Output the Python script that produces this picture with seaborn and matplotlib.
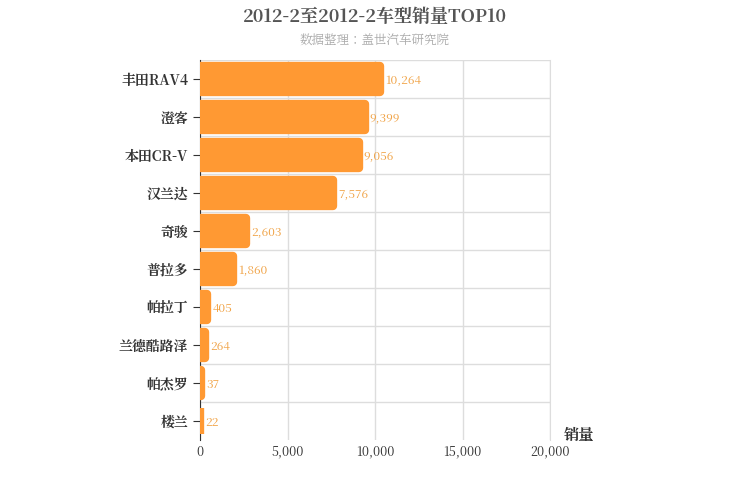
import matplotlib
matplotlib.use('Agg')
import matplotlib.pyplot as plt
from matplotlib import font_manager
import seaborn as sns
import pandas as pd
import numpy as np

models = ['丰田RAV4', '澄客', '本田CR-V', '汉兰达', '奇骏', '普拉多', '帕拉丁', '兰德酷路泽', '帕杰罗', '楼兰']
sales = [10264, 9399, 9056, 7576, 2603, 1860, 405, 264, 37, 22]

# find a CJK font file and register it
cjk = None
for f in font_manager.findSystemFonts():
    if 'CJK' in f or 'cjk' in f.lower():
        try:
            font_manager.fontManager.addfont(f)
        except Exception:
            continue
        name = font_manager.FontProperties(fname=f).get_name()
        if cjk is None or 'SC' in name:
            cjk = name
plt.rcParams['font.family'] = 'sans-serif'
plt.rcParams['font.sans-serif'] = [cjk or 'Noto Sans CJK SC', 'Noto Sans CJK JP', 'DejaVu Sans']
df = pd.DataFrame({'model': models, 'sales': sales})

fig = plt.figure(figsize=(7.5, 5), dpi=100)
ax = fig.add_axes([0.2667, 0.12, 0.4667, 0.76])
sns.barplot(data=df, y='model', x='sales', color='#ff9933', saturation=1,
            width=0.68, ax=ax, zorder=3)
for p in ax.patches:
    p.set_edgecolor('#ff9933')
    p.set_linewidth(6)
    p.set_joinstyle('round')

for i, v in enumerate(sales):
    ax.text(v + 300, i + 0.05, f'{v:,}', va='center', ha='left', color='#f0a040',
            fontsize=8.5, zorder=4)

ax.set_xlim(0, 20000)
ax.set_ylim(len(models) - 0.5, -0.5)
ax.set_xticks([0, 5000, 10000, 15000, 20000])
ax.set_xticklabels(['0', '5,000', '10,000', '15,000', '20,000'], fontsize=9, color='#333333')
ax.set_yticks(np.arange(len(models)) - 0.5, minor=True)
ax.tick_params(axis='y', which='major', length=5, labelsize=10, color='#333333')
for t in ax.get_yticklabels():
    t.set_fontweight('bold')
    t.set_color('#333333')
ax.tick_params(axis='y', which='minor', length=0)
ax.tick_params(axis='x', length=0)
ax.grid(axis='x', color='#dddddd', lw=1, zorder=0)
ax.grid(axis='y', which='minor', color='#dddddd', lw=1, zorder=0)
ax.set_axisbelow(True)
for s in ['top', 'bottom']:
    ax.spines[s].set_visible(False)
ax.spines['right'].set_color('#dddddd')
ax.spines['left'].set_color('#333333')
ax.set_xlabel('')
ax.set_ylabel('')
ax.text(1.04, -0.01, '销量', transform=ax.transAxes, fontsize=11, fontweight='bold',
        color='#333333', ha='left', va='bottom')

fig.text(0.5, 0.965, '2012-2至2012-2车型销量TOP10', ha='center', va='center',
         fontsize=13, fontweight='bold', color='#555555')
fig.text(0.5, 0.918, '数据整理：盖世汽车研究院', ha='center', va='center',
         fontsize=9, color='#aaaaaa')

fig.savefig('out.png', dpi=100)
